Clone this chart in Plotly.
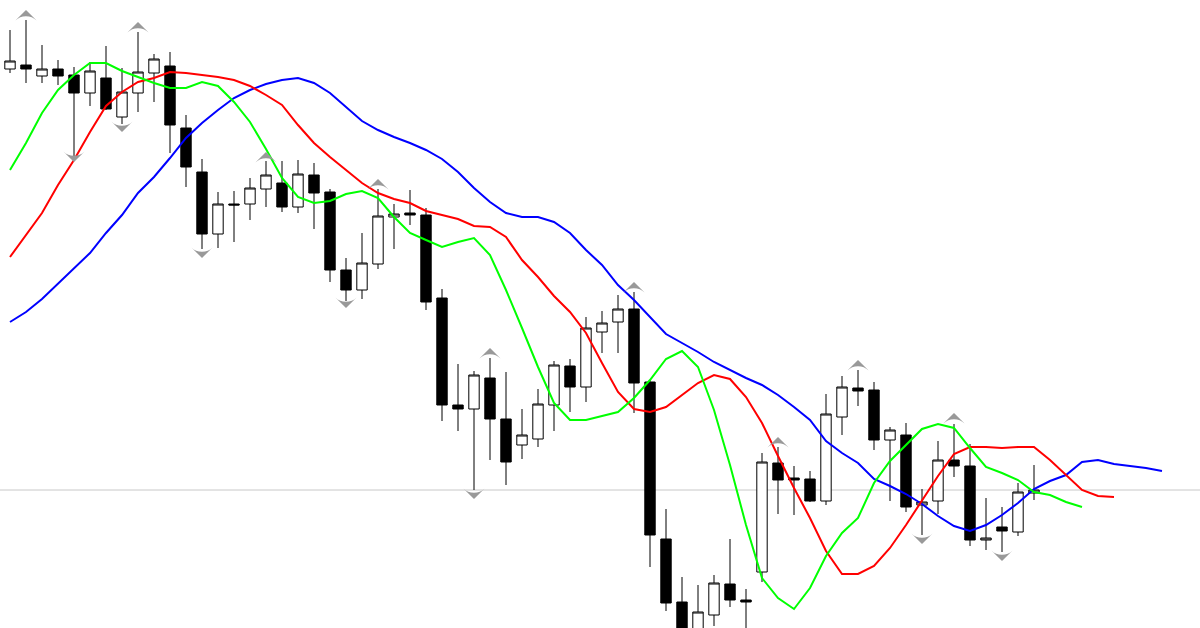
import plotly.graph_objects as go

# Bar index (0 = oldest visible bar)
bars = list(range(65))

# OHLC values (price units)
opens = [559, 563, 552, 559, 553, 535, 550, 511, 535, 555, 562, 500, 456, 394, 424, 424,
         439, 445, 421, 453, 436, 358, 338, 364, 411, 415, 413, 330, 223, 219, 250, 209,
         183, 189, 223, 262, 241, 296, 306, 319, 246, 89, 26, -4, 13, 44, 28, 56,
         165, 150, 149, 127, 211, 240, 238, 188, 193, 123, 127, 168, 162, 88, 101, 96, 135]
highs = [598, 608, 583, 568, 561, 566, 582, 560, 596, 574, 576, 513, 469, 436, 437, 450,
         467, 467, 468, 465, 439, 370, 395, 439, 424, 438, 420, 339, 264, 257, 270, 256,
         219, 239, 267, 269, 311, 317, 333, 336, 248, 119, 51, 43, 53, 89, 39, 175,
         181, 162, 157, 234, 252, 258, 246, 201, 205, 139, 187, 204, 184, 130, 121, 145, 163]
lows = [555, 545, 545, 543, 472, 522, 518, 504, 516, 526, 475, 441, 379, 380, 386, 408,
        421, 416, 415, 399, 346, 327, 329, 359, 379, 403, 318, 207, 197, 138, 168, 143,
        169, 181, 197, 216, 226, 275, 275, 215, 61, 17, -17, -12, 2, 21, -7, 46,
        114, 113, 126, 123, 193, 222, 178, 127, 116, 93, 114, 151, 82, 78, 76, 92, 128]
closes = [567, 559, 559, 552, 535, 557, 519, 536, 556, 569, 503, 461, 394, 424, 423, 440,
          453, 421, 454, 435, 358, 338, 365, 412, 414, 413, 326, 223, 219, 253, 209, 166,
          193, 224, 263, 241, 300, 305, 319, 245, 93, 25, -7, 16, 45, 28, 26, 166,
          148, 148, 127, 214, 241, 237, 188, 198, 121, 126, 168, 162, 88, 90, 97, 136, 138]

# Alligator lines (shifted forward: jaw 8, teeth 5, lips 3 bars)
jaw = [306, 316, 329, 344, 360, 375, 395, 413, 435, 451, 470, 490, 505, 518, 530, 538,
       544, 548, 550, 545, 535, 521, 507, 498, 491, 485, 478, 469, 456, 440, 426, 415,
       411, 411, 406, 395, 378, 363, 343, 328, 311, 294, 285, 276, 266, 258, 250, 243,
       233, 221, 208, 187, 175, 165, 149, 142, 134, 124, 112, 102, 97, 103, 113, 125,
       139, 147, 153, 166, 168, 164, 162, 160, 157]
teeth = [371, 393, 415, 443, 468, 496, 522, 536, 546, 550, 556, 555, 553, 551, 548, 542,
         533, 523, 503, 485, 471, 458, 445, 435, 429, 425, 417, 413, 409, 402, 401, 391,
         368, 351, 332, 316, 295, 265, 236, 219, 216, 221, 233, 245, 253, 249, 231, 205,
         172, 140, 110, 77, 54, 54, 62, 80, 103, 127, 152, 174, 181, 181, 180, 181,
         181, 168, 153, 138, 132, 131]
lips = [458, 485, 515, 538, 553, 565, 565, 557, 551, 545, 540, 540, 546, 542, 526, 506,
        479, 450, 431, 425, 427, 434, 437, 430, 411, 395, 388, 381, 386, 390, 373, 338,
        300, 261, 225, 208, 208, 212, 216, 230, 248, 269, 277, 261, 218, 163, 103, 50,
        30, 19, 40, 72, 95, 110, 145, 167, 183, 199, 204, 200, 180, 161, 155, 148,
        136, 133, 126, 121]

# Fractals
up_bars = [1, 8, 16, 23, 30, 39, 48, 53, 59]
up_levels = [618, 606, 476, 449, 280, 346, 191, 268, 215]
down_bars = [4, 7, 12, 21, 29, 57, 62]
down_levels = [466, 496, 370, 320, 129, 84, 67]

# Current price line
bid_level = 138

fig = go.Figure()

fig.add_hline(y=bid_level, line=dict(color="#C8C8C8", width=1), layer="below")

fig.add_trace(go.Candlestick(
    x=bars, open=opens, high=highs, low=lows, close=closes,
    increasing=dict(line=dict(color="black", width=1), fillcolor="white"),
    decreasing=dict(line=dict(color="black", width=1), fillcolor="black"),
    whiskerwidth=0, hoverinfo="skip"))

fig.add_trace(go.Scatter(x=list(range(len(jaw))), y=jaw, mode="lines",
                         line=dict(color="#0000FF", width=2), hoverinfo="skip"))
fig.add_trace(go.Scatter(x=list(range(len(teeth))), y=teeth, mode="lines",
                         line=dict(color="#FF0000", width=2), hoverinfo="skip"))
fig.add_trace(go.Scatter(x=list(range(len(lips))), y=lips, mode="lines",
                         line=dict(color="#00FF00", width=2), hoverinfo="skip"))

fig.add_trace(go.Scatter(x=up_bars, y=up_levels, mode="markers",
                         marker=dict(symbol="arrow-wide", angle=0, size=15,
                                     color="#999999", line=dict(width=0)),
                         hoverinfo="skip"))
fig.add_trace(go.Scatter(x=down_bars, y=down_levels, mode="markers",
                         marker=dict(symbol="arrow-wide", angle=180, size=15,
                                     color="#999999", line=dict(width=0)),
                         hoverinfo="skip"))

fig.update_layout(
    width=1200, height=628,
    margin=dict(l=0, r=0, t=0, b=0),
    paper_bgcolor="white", plot_bgcolor="white",
    showlegend=False,
    boxgap=0.35,
    boxgroupgap=0,
    hovermode=False,
    xaxis=dict(range=[-0.625, 74.375], visible=False, showgrid=False,
               zeroline=False, rangeslider=dict(visible=False)),
    yaxis=dict(range=[0, 628], visible=False, showgrid=False, zeroline=False),
)

fig.write_html("out.html",
               config={"displayModeBar": False, "staticPlot": True},
               post_script="document.body.style.margin='0';document.body.style.overflow='hidden';")
